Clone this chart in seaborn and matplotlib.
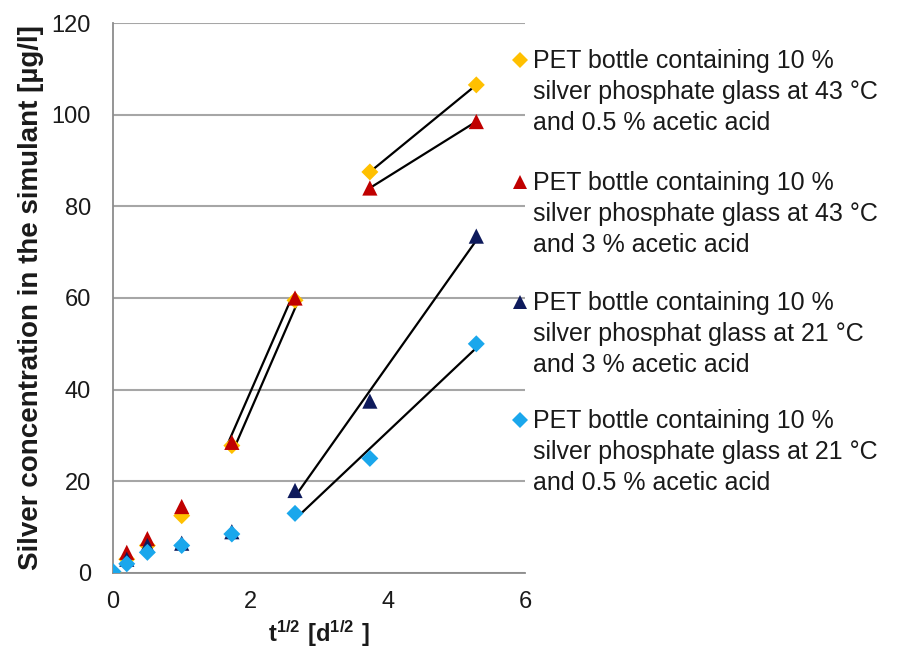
import numpy as np
import pandas as pd
import matplotlib
matplotlib.use("Agg")
import matplotlib.pyplot as plt
import matplotlib.transforms as mtransforms
from matplotlib.lines import Line2D
import seaborn as sns

# square root of contact time [d^1/2]
sqrt_time = [0.0, 0.2, 0.5, 1.0, 1.73, 2.65, 3.74, 5.29]

# silver concentration in the simulant [µg/l]
ag_43c_05 = [0.0, 3.0, 6.0, 12.5, 27.8, 59.5, 87.5, 106.5]
ag_43c_3 = [0.0, 4.5, 7.5, 14.5, 28.5, 60.0, 84.0, 98.5]
ag_21c_3 = [0.0, 3.0, 6.0, 6.5, 9.0, 18.0, 37.5, 73.5]
ag_21c_05 = [0.3, 2.0, 4.5, 6.0, 8.5, 13.0, 25.0, 50.0]

labels = [
    "PET bottle containing 10 %\nsilver phosphate glass at 43 °C\nand 0.5 % acetic acid",
    "PET bottle containing 10 %\nsilver phosphate glass at 43 °C\nand 3 % acetic acid",
    "PET bottle containing 10 %\nsilver phosphat glass at 21 °C\nand 3 % acetic acid",
    "PET bottle containing 10 %\nsilver phosphate glass at 21 °C\nand 0.5 % acetic acid",
]
series_values = [ag_43c_05, ag_43c_3, ag_21c_3, ag_21c_05]
colors = ["#FFC000", "#C00000", "#0E1A5C", "#1AA7EC"]
markers = ["D", "^", "^", "D"]
sizes = [75, 120, 120, 75]

# index ranges of the linear trend segments per series
trend_segments = [
    [(4, 5), (6, 7)],
    [(4, 5), (6, 7)],
    [(5, 7)],
    [(5, 7)],
]
# small horizontal offsets (points) keeping the overlapping 43 °C lines apart
segment_shift = [[2.5, 0.0], [-2.5, 0.0], [0.0], [0.0]]

df = pd.DataFrame({
    "t": np.tile(sqrt_time, len(labels)),
    "Ag": np.concatenate(series_values),
    "series": np.repeat(labels, len(sqrt_time)),
})

sns.set_theme(style="white")
plt.rcParams["font.family"] = ["Liberation Sans", "DejaVu Sans"]
plt.rcParams["mathtext.fontset"] = "custom"
plt.rcParams["mathtext.rm"] = "Liberation Sans"
plt.rcParams["mathtext.bf"] = "Liberation Sans:bold"

fig = plt.figure(figsize=(9, 6.5), dpi=100)
ax = fig.add_axes([0.1256, 0.1185, 0.4578, 0.8461])

# trend lines
for si, segs in enumerate(trend_segments):
    sub = df[df["series"] == labels[si]].reset_index(drop=True)
    for k, (a, b) in enumerate(segs):
        part = sub.iloc[a:b + 1]
        sns.regplot(data=part, x="t", y="Ag", ax=ax, scatter=False, ci=None,
                    truncate=True, color="black", line_kws={"lw": 1.6, "zorder": 2})
        shift = segment_shift[si][k]
        if shift:
            line = ax.lines[-1]
            line.set_transform(ax.transData + mtransforms.ScaledTranslation(
                shift / 72.0, 0, fig.dpi_scale_trans))

# data points
for si, lab in enumerate(labels):
    sns.scatterplot(data=df[df["series"] == lab], x="t", y="Ag", ax=ax,
                    marker=markers[si], color=colors[si], s=sizes[si],
                    edgecolor="none", linewidth=0, zorder=3 + si, legend=False)

ax.set_xlim(0, 6)
ax.set_ylim(0, 120)
ax.set_xticks([0, 2, 4, 6])
ax.set_yticks(np.arange(0, 121, 20))
ax.yaxis.grid(True, color="#A6A6A6", lw=1.5)
ax.set_axisbelow(True)
for side in ["top", "right"]:
    ax.spines[side].set_visible(False)
for side in ["left", "bottom"]:
    ax.spines[side].set_color("#8C8C8C")
    ax.spines[side].set_linewidth(1.3)
ax.tick_params(axis="both", labelsize=17, colors="#8C8C8C", labelcolor="#1A1A1A",
               length=5, width=1.2, direction="out")
ax.tick_params(axis="y", pad=11)
ax.tick_params(axis="x", direction="inout", length=8, pad=9)

ax.set_xlabel(r"$\mathbf{t^{1/2}\ [d^{1/2}\ ]}$", fontsize=17, labelpad=4,
              color="#1A1A1A")
ax.set_ylabel("Silver concentration in the simulant [µg/l]", fontsize=20,
              fontweight="bold", labelpad=5, color="#1A1A1A")

# legend: marker beside the first line of each three-line entry
fig_w, fig_h = fig.get_size_inches() * fig.dpi
entry_rows = [60, 182, 302, 420]
for si, row in enumerate(entry_rows):
    yf = 1 - row / fig_h
    fig.add_artist(Line2D([520 / fig_w], [yf], transform=fig.transFigure,
                          ls="none", marker=markers[si], color=colors[si],
                          markersize=(8.5 if markers[si] == "D" else 10.5),
                          markeredgewidth=0))
    # text anchored on the baseline of its last line
    fig.text(533 / fig_w, 1 - (row + 70) / fig_h, labels[si], fontsize=18,
             va="baseline", ha="left", linespacing=1.36, color="#1A1A1A")

fig.savefig("out.png", dpi=100)
